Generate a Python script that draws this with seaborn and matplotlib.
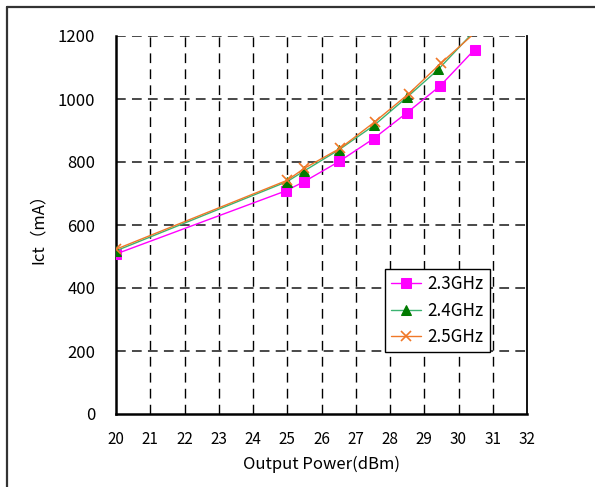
import matplotlib
matplotlib.use("Agg")
import matplotlib.pyplot as plt
from matplotlib.lines import Line2D
import numpy as np
import pandas as pd
import seaborn as sns

# Supply current vs. output power at three frequencies
power_23 = [20.0, 24.95, 25.5, 26.52, 27.52, 28.49, 29.46, 30.47]
ict_23 = [508, 708, 738, 802, 874, 956, 1041, 1157]

power_24 = [20.0, 25.0, 25.5, 26.5, 27.53, 28.5, 29.41, 30.6]
ict_24 = [518, 738, 772, 838, 916, 1006, 1094, 1231]

power_25 = [20.0, 25.0, 25.5, 26.55, 27.55, 28.55, 29.5, 30.6]
ict_25 = [523, 742, 780, 844, 927, 1017, 1115, 1222]

labels = ["2.3GHz", "2.4GHz", "2.5GHz"]
x_ticks = list(range(20, 33))
y_ticks = list(range(0, 1201, 200))

sns.set_style("white")
plt.rcParams["font.family"] = ["Noto Sans CJK JP", "DejaVu Sans"]
plt.rcParams["lines.scale_dashes"] = False

fig = plt.figure(figsize=(5.95, 4.87), dpi=100)
ax = fig.add_axes([116 / 595, 1 - 414 / 487, 411 / 595, 378 / 487])

styles = [
    dict(color="#FF00FF", marker="s", markersize=6.5, markerfacecolor="#FF00FF",
         markeredgecolor="#FF00FF"),
    dict(color="#3CB371", marker="^", markersize=7, markerfacecolor="#007A00",
         markeredgecolor="#007A00"),
    dict(color="#F07828", marker="x", markersize=7, markeredgewidth=1.2,
         markeredgecolor="#F07828"),
]
series = [(power_23, ict_23), (power_24, ict_24), (power_25, ict_25)]
for (px, iy), lab, st in zip(series, labels, styles):
    df = pd.DataFrame({"power": px, "ict": iy})
    sns.lineplot(data=df, x="power", y="ict", ax=ax, label=lab, linewidth=1.0,
                 zorder=3, **st)

ax.set_xlim(20, 32)
ax.set_ylim(0, 1200)
ax.set_xticks(x_ticks)
ax.set_yticks(y_ticks)
ax.tick_params(axis="both", length=0, colors="black")
ax.tick_params(axis="y", pad=15, labelsize=12)
ax.tick_params(axis="x", pad=12, labelsize=11)

# dashed grid
for xv in x_ticks[1:-1]:
    ax.axvline(xv, color="black", linewidth=1.0, linestyle=(0, (7, 4.5)), zorder=1)
for yv in y_ticks[1:]:
    ax.axhline(yv, color="#3a3a3a", linewidth=1.3, linestyle=(0, (7, 4.5)), zorder=1)

for side in ["left", "bottom"]:
    ax.spines[side].set_color("black")
    ax.spines[side].set_linewidth(1.8)
ax.spines["right"].set_color("black")
ax.spines["right"].set_linewidth(1.3)
ax.spines["top"].set_visible(False)

ax.set_xlabel("Output Power(dBm)", fontsize=12, labelpad=6, color="black")
ax.set_ylabel("Ict（mA）", fontsize=12, labelpad=8, color="black")

leg = ax.legend(loc="upper left", bbox_to_anchor=(0.6545, 0.383), borderaxespad=0,
                fontsize=12.3, frameon=True, fancybox=False, framealpha=1,
                edgecolor="black", handlelength=1.75, handletextpad=0.4,
                labelspacing=0.5, borderpad=0.35)
leg.get_frame().set_linewidth(1.0)
leg.set_zorder(5)
for t in leg.get_texts():
    t.set_color("black")

# outer frame
fig.add_artist(Line2D([7 / 595, 7 / 595], [0, 1 - 7 / 487], color="#333333",
                      linewidth=1.6, transform=fig.transFigure))
fig.add_artist(Line2D([7 / 595, 1], [1 - 7 / 487, 1 - 7 / 487], color="#333333",
                      linewidth=1.6, transform=fig.transFigure))

fig.savefig("out.png", dpi=100)
